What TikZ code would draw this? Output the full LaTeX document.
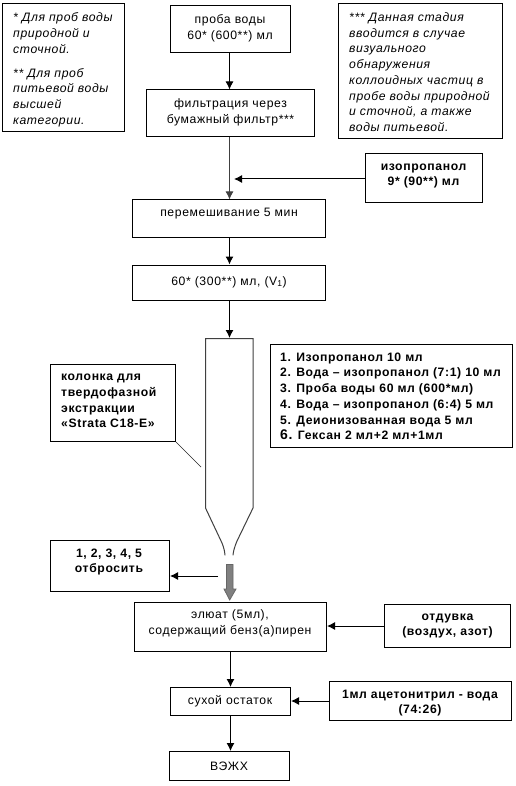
\documentclass[tikz,border=0pt]{standalone}
\usepackage{fontspec}
\setmainfont{Liberation Sans}
\usetikzlibrary{arrows.meta}
\newfontfamily\wideface[LetterSpace=5]{Liberation Sans}
\tikzset{
  x=1pt,y=-1pt,
  boxshape/.style={draw=black,line width=1pt,fill=white,inner sep=0pt},
  txt/.style={inner sep=0pt,align=center,font=\fontsize{12.2}{15.7}\selectfont\wideface},
  btxt/.style={txt,font=\fontsize{12.2}{15.7}\selectfont\wideface\bfseries},
  itxt/.style={txt,align=left,font=\fontsize{12.2}{15.7}\selectfont\wideface\itshape},
  conn/.style={line width=1pt,draw=black,-{Latex[length=8pt,width=8pt]}},
  thinline/.style={line width=0.7pt,draw=black!85},
  tube/.style={line width=1pt,draw=black!75},
}
% name, x1, y1, x2, y2
\newcommand{\bx}[5]{\node[boxshape,minimum width={(#4-#2)*1pt},minimum height={(#5-#3)*1pt}] (#1) at ({(#2+#4)/2},{(#3+#5)/2}) {};}
\begin{document}
\begin{tikzpicture}
\useasboundingbox (0,0) rectangle (515,786);
\fill[white] (0,0) rectangle (515,786);
\bx{noteL}{2}{4}{124.5}{132}
\bx{sample}{170}{6}{290}{53}
\bx{filt}{146.5}{90}{314}{137}
\bx{noteR}{338.5}{4}{502}{139}
\bx{iso}{365.5}{154}{482}{203}
\bx{mix}{132.5}{200}{325.5}{237}
\bx{vone}{132.5}{265}{325.5}{300}
\bx{kol}{50.5}{364.5}{175.5}{441.5}
\bx{list}{270.5}{344.5}{512.5}{447.5}
\bx{disc}{50.5}{540.5}{169.5}{591.5}
\bx{elu}{134.5}{602.5}{326.5}{651.5}
\bx{blow}{384.5}{604.5}{510.5}{647.5}
\bx{dry}{170.5}{687.5}{290.5}{715.5}
\bx{acn}{329.5}{681.5}{511.5}{720.5}
\bx{hplc}{169.5}{751.5}{289.5}{780.5}

\node[itxt,anchor=north west] (tNoteL) at (13,12.5) {* Для проб воды\\природной и\\сточной.\\[8.5pt]** Для проб\\питьевой воды\\высшей\\категории.};
\node[itxt,anchor=north west] (tNoteR) at (349,12.5) {*** Данная стадия\\вводится в случае\\визуального\\обнаружения\\коллоидных частиц в\\пробе воды природной\\и сточной, а также\\воды питьевой.};
\node[txt] (tSample) at (230,28) {проба воды\\60* (600**) мл};
\node[txt] (tFilt) at (230.5,112) {фильтрация через\\бумажный фильтр***};
\node[btxt] (tIso) at (423.5,176) {изопропанол\\9* (90**) мл};
\node[txt] (tMix) at (229,214) {перемешивание 5 мин};
\node[txt] (tVone) at (229,282) {60* (300**) мл, (V\textsubscript{1})};
\node[btxt,align=left,anchor=north west] (tKol) at (61,374) {колонка для\\твердофазной\\экстракции\\«Strata C18-E»};
\node[btxt,align=left,anchor=north west] (tList) at (280,352.5) {1. Изопропанол 10 мл\\2. Вода – изопропанол (7:1) 10 мл\\3. Проба воды 60 мл (600*мл)\\4. Вода – изопропанол (6:4) 5 мл\\5. Деионизованная вода 5 мл\\{\fontsize{14}{15.7}\selectfont 6.} Гексан 2 мл+2 мл+1мл};
\node[btxt] (tDisc) at (109,562) {1, 2, 3, 4, 5\\отбросить};
\node[txt] (tElu) at (230,623) {элюат (5мл),\\содержащий бенз(а)пирен};
\node[btxt] (tBlow) at (447.5,626) {отдувка\\(воздух, азот)};
\node[txt] (tDry) at (230,701) {сухой остаток};
\node[btxt] (tAcn) at (420,703) {1мл ацетонитрил - вода\\(74:26)};
\node[txt] (tHplc) at (229,766) {ВЭЖХ};

% column
\coordinate (colTL) at (205.5,338.5);
\coordinate (colTR) at (253,338.5);
\coordinate (colIn) at (229,338);
\draw[tube,line cap=round] (225,555) .. controls (224.5,550) and (223.5,547) .. (222,543) -- (205.5,508) -- (colTL) -- (colTR) -- (253,508) -- (237,541) .. controls (235,546) and (233.5,550) .. (233,555);
% pointer
\coordinate (kolEnd) at (201,467);
\draw[thinline] (kol.south east) -- (kolEnd);
% connectors
\draw[conn] (sample.south -| 229.5,0) -- (filt.north -| 229.5,0);
\draw[conn,draw=black!75] (filt.south -| 229.5,0) -- (mix.north -| 229.5,0);
\coordinate (isoEnd) at (234,179);
\draw[conn] (iso.west |- isoEnd) -- (isoEnd);
\draw[conn] (mix.south -| 229.5,0) -- (vone.north -| 229.5,0);
\draw[conn] (vone.south -| 229.5,0) -- (colIn -| 229.5,0);
\coordinate (discStart) at (218,576);
\draw[conn] (discStart) -- (disc.east |- discStart);
% grey block arrow
\draw[draw=black!60,fill=black!50,line width=0.8pt] (226.5,564.5) -- (233,564.5) -- (233,589) -- (236,589) -- (229.7,600) -- (224,589) -- (226.5,589) -- cycle;
\draw[conn] (blow.west |- 0,626) -- (elu.east |- 0,626);
\draw[conn] (elu.south -| 230.5,0) -- (dry.north -| 230.5,0);
\draw[conn] (acn.west |- 0,701) -- (dry.east |- 0,701);
\draw[conn] (dry.south -| 230.5,0) -- (hplc.north -| 230.5,0);
\end{tikzpicture}
\end{document}
